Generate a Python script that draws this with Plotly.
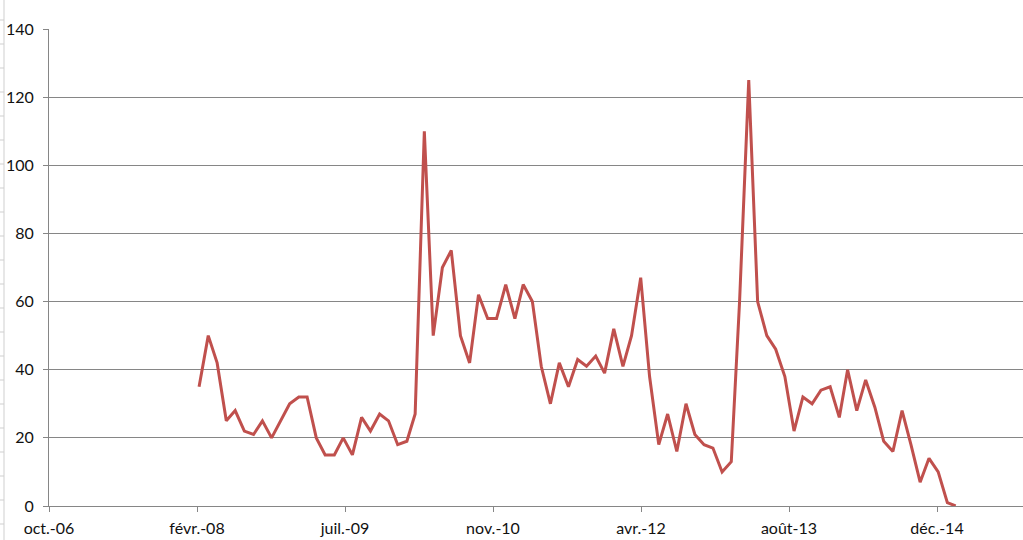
import pandas as pd
import plotly.graph_objects as go

# ---- data (monthly values) ----
months = pd.date_range("2008-03-01", "2015-03-01", freq="MS").strftime("%Y-%m-%d").tolist()
values = [35, 50, 42, 25, 28, 22, 21, 25, 20, 25,
          30, 32, 32, 20, 15, 15, 20, 15, 26, 22,
          27, 25, 18, 19, 27, 110, 50, 70, 75, 50,
          42, 62, 55, 55, 65, 55, 65, 60, 41, 30,
          42, 35, 43, 41, 44, 39, 52, 41, 50, 67,
          38, 18, 27, 16, 30, 21, 18, 17, 10, 13,
          60, 125, 60, 50, 46, 38, 22, 32, 30, 34,
          35, 26, 40, 28, 37, 29, 19, 16, 28, 18,
          7, 14, 10, 1, 0]
tick_labels = ["oct.-06", "févr.-08", "juil.-09", "nov.-10", "avr.-12", "août-13", "déc.-14"]
y_ticks = [0, 20, 40, 60, 80, 100, 120, 140]

# ---- axis geometry (Excel day-based date axis) ----
axis_start = pd.Timestamp("2006-10-11")
tick_step_days = 500
plot_w = 974
px_per_day = 148 / tick_step_days
axis_end = axis_start + pd.Timedelta(days=plot_w / px_per_day)
tick_vals = [(axis_start + pd.Timedelta(days=tick_step_days * k)).strftime("%Y-%m-%d")
             for k in range(len(tick_labels))]

GRID = "#868686"
FONT = "Lato, 'Open Sans', sans-serif"
TXT = "#111111"

fig = go.Figure()
fig.add_trace(go.Scatter(
    x=months, y=values, mode="lines",
    line=dict(color="#C0504D", width=3),
    hoverinfo="x+y", showlegend=False,
))

# faint spreadsheet cell borders at the left edge
H = 540
top_px, bot_px = 29, 506
def py(Y):
    return (bot_px - Y) / (bot_px - top_px)
def px(X):
    return (X - 49) / plot_w

shapes = [dict(type="line", xref="paper", yref="paper",
               x0=px(4), x1=px(4), y0=py(0), y1=py(H),
               line=dict(color="#cfcfcf", width=1))]
for Y in range(20, 540, 24):
    shapes.append(dict(type="line", xref="paper", yref="paper",
                       x0=px(0), x1=px(4), y0=py(Y), y1=py(Y),
                       line=dict(color="#cfcfcf", width=1)))

fig.update_layout(
    width=1023, height=540,
    margin=dict(l=49, r=0, t=29, b=34, autoexpand=False),
    paper_bgcolor="white", plot_bgcolor="white",
    font=dict(family=FONT, size=16, color=TXT),
    shapes=shapes,
    xaxis=dict(
        type="date",
        range=[axis_start.strftime("%Y-%m-%d"), axis_end.strftime("%Y-%m-%d %H:%M")],
        tickmode="array", tickvals=tick_vals, ticktext=tick_labels,
        showgrid=False, zeroline=False,
        showline=True, linecolor=GRID, linewidth=1,
        ticks="outside", ticklen=5, tickcolor=GRID, tickwidth=1,
        ticklabelstandoff=3,
        tickfont=dict(family=FONT, size=16, color=TXT),
        fixedrange=True,
    ),
    yaxis=dict(
        range=[0, 140],
        tickmode="array", tickvals=y_ticks,
        showgrid=True, gridcolor=GRID, gridwidth=1,
        zeroline=False,
        showline=True, linecolor=GRID, linewidth=1,
        ticks="outside", ticklen=5, tickcolor=GRID, tickwidth=1,
        ticklabelstandoff=6,
        tickfont=dict(family=FONT, size=16, color=TXT),
        fixedrange=True,
    ),
)

fig.write_html(
    "out.html",
    config={"displayModeBar": False},
    post_script="document.body.style.margin='0';document.body.style.overflow='hidden';",
)
